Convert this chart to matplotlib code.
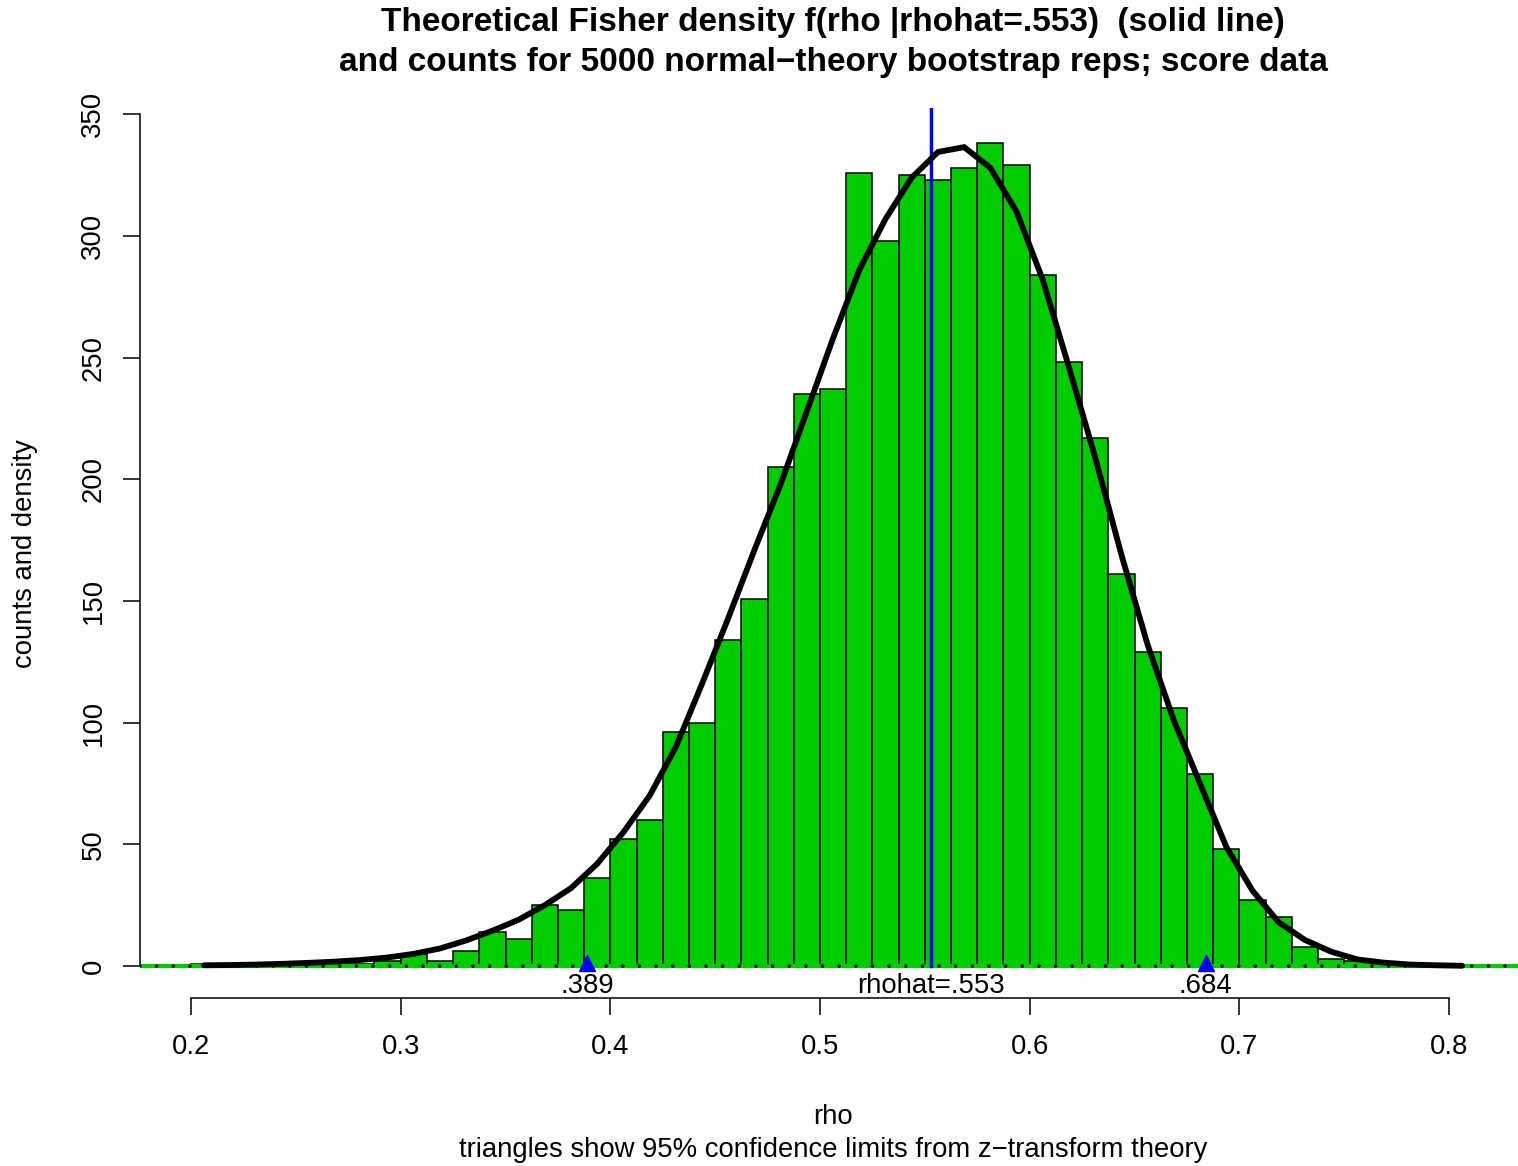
import matplotlib
matplotlib.use("Agg")
import matplotlib.pyplot as plt
import numpy as np

plt.rcParams['font.family'] = ['Liberation Sans', 'DejaVu Sans']

# histogram of 5000 bootstrap correlations, bins of width .0125 starting at 0.2
bin_width = 0.0125
counts = [1, 0, 0, 0, 1, 1, 1, 2, 5, 2,
          6, 14, 11, 25, 23, 36, 52, 60, 96, 100,
          134, 151, 205, 235, 237, 326, 298, 325, 323, 328,
          338, 329, 284, 248, 217, 161, 129, 106, 79, 48,
          27, 20, 8, 3, 2, 1, 0, 0, 0]
bin_left = 0.2 + bin_width * np.arange(len(counts))
bin_mid = bin_left + bin_width / 2

# Fisher density scaled to counts (5000 * .0125), evaluated at bin midpoints
fisher_dens = [0.3, 0.4, 0.6, 0.9, 1.3, 1.8, 2.5, 3.5, 5.0, 7.2,
               10.5, 14.5, 19, 25, 32, 42, 55, 70, 90, 116,
               143, 171, 198, 228, 258, 286, 307, 324, 334.5, 336.5,
               328, 310, 282, 246, 209, 169, 132, 101, 75, 49,
               31, 18, 10.7, 5.9, 2.7, 1.4, 0.6, 0.3, 0.1]

rhohat = 0.553
conf_limits = [0.389, 0.684]
conf_labels = ['.389', '.684']

W, H = 1518, 1166
fig = plt.figure(figsize=(W / 100, H / 100), dpi=100)
ax = fig.add_axes([140 / W, (H - 998) / H, (W - 140) / W, (998 - 108) / H])

ax.bar(bin_left, counts, width=bin_width, align='edge', color='#00CD00',
       edgecolor='black', linewidth=1.1, zorder=2)

# baseline: green line with black dots
ax.axhline(0, color='#00CD00', lw=3, zorder=3)
ax.axhline(0, color='black', lw=2.6, linestyle=(0, (0.01, 4.6)),
           dash_capstyle='round', zorder=4)

ax.plot([rhohat, rhohat], [0, 400], color='blue', lw=2.5, zorder=5)
ax.plot(bin_mid, fisher_dens, color='black', lw=4.2, solid_capstyle='round',
        solid_joinstyle='miter', zorder=6)

ax.plot(conf_limits, [1.2, 1.2], linestyle='none', marker='^', color='blue',
        markersize=12, zorder=7)
for xv, lab in zip(conf_limits, conf_labels):
    ax.text(xv, -8.3, lab, ha='center', va='center', fontsize=19.8)
ax.text(rhohat, -8.3, 'rhohat=.553', ha='center', va='center', fontsize=19.8)

ax.set_xlim(0.2 + (140 - 191) / 2096.7, 0.2 + (1518 - 191) / 2096.7)
ax.set_ylim((966 - 998) / 2.4335, (966 - 108) / 2.4335)

for s in ['top', 'right']:
    ax.spines[s].set_visible(False)
ax.spines['left'].set_bounds(0, 350)
ax.spines['bottom'].set_bounds(0.2, 0.8)
for s in ['left', 'bottom']:
    ax.spines[s].set_linewidth(1.1)

ax.set_xticks([0.2, 0.3, 0.4, 0.5, 0.6, 0.7, 0.8])
ax.set_xticklabels(['0.2', '0.3', '0.4', '0.5', '0.6', '0.7', '0.8'])
ax.set_yticks(range(0, 351, 50))
ax.tick_params(length=12.2, width=1.1, labelsize=19.8)
ax.tick_params(axis='x', pad=14)
ax.tick_params(axis='y', pad=12, labelrotation=90)
plt.setp(ax.get_yticklabels(), va='center')

cx = 833 / W
fig.text(cx, 1 - 23 / H, 'Theoretical Fisher density f(rho |rhohat=.553)  (solid line)',
         ha='center', va='center', fontsize=24, fontweight='bold')
fig.text(cx, 1 - 63 / H, 'and counts for 5000 normal\u2212theory bootstrap reps; score data',
         ha='center', va='center', fontsize=24, fontweight='bold')
fig.text(cx, 1 - 1117 / H, 'rho', ha='center', va='center', fontsize=19.8)
fig.text(cx, 1 - 1150 / H, 'triangles show 95% confidence limits from z\u2212transform theory',
         ha='center', va='center', fontsize=19.8)
fig.text(25 / W, 1 - 554 / H, 'counts and density', ha='center', va='center',
         rotation=90, fontsize=19.8)

fig.savefig('out.png', dpi=100)
